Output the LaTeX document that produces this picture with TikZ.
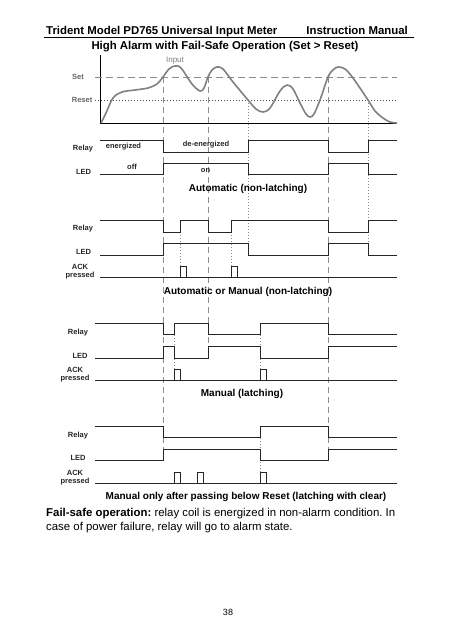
\documentclass[tikz,border=0pt]{standalone}
\usepackage{fontspec}
\setmainfont{Liberation Sans}
\usepackage{tikz}
\usetikzlibrary{positioning}
\frenchspacing

\newcommand{\TraceEnd}{397}
\newcommand{\PulseWidth}{6}

\tikzset{
	trace/.style={line width=0.95pt, black!85},
	inputcurve/.style={line width=1.6pt, black!50, line join=round},
	guide/.style={line width=0.7pt, black!45, dash pattern=on 6pt off 4pt},
	tickline/.style={line width=0.7pt, black!45, dash pattern=on 1pt off 2pt},
	siglabel/.style={inner sep=0pt, font=\fontsize{7.5}{8.5}\selectfont\bfseries, text=black!85},
	levellabel/.style={inner sep=0pt, font=\fontsize{7.5}{8.5}\selectfont\bfseries, text=black!60},
	modetitle/.style={inner sep=0pt, font=\fontsize{10}{12}\selectfont\bfseries},
}

\begin{document}
\begin{tikzpicture}[x=1pt, y=-1pt]
	\useasboundingbox[fill=white] (0,0) rectangle (457,640);
	
	% draw page header
	\node[inner sep=0pt, anchor=base west, font=\fontsize{11.4}{13}\selectfont\bfseries] (header) at (46,34.5) {Trident Model PD765 Universal Input Meter};
	\node[inner sep=0pt, anchor=base east, font=\fontsize{11.4}{13}\selectfont\bfseries] (manual) at (408,34.5) {Instruction Manual};
	\draw[line width=0.8pt] (44,37.5) -- (414,37.5);
	\node[inner sep=0pt, anchor=base, font=\fontsize{11.4}{13}\selectfont\bfseries] (title) at (225,49) {High Alarm with Fail-Safe Operation (Set > Reset)};
	
	% draw vertical guides
	\foreach \x in {163,328}
	\draw[guide] (\x,77) -- (\x,460);
	\draw[guide] (208,77) -- (208,358);
	\foreach \x in {248,368}
	\draw[tickline] (\x,100) -- (\x,255);
	\foreach \x in {180,231}
	\draw[tickline] (\x,220) -- (\x,277);
	\foreach \x in {174,260}
	\draw[tickline] (\x,323) -- (\x,380);
	\draw[tickline] (260,426) -- (260,483);
	
	% draw input chart
	\draw[line width=0.8pt] (100,55) -- (100,123) -- (\TraceEnd,123);
	\draw[guide, line width=0.9pt, dash pattern=on 7pt off 4pt] (95,77) -- (\TraceEnd,77);
	\draw[tickline, black!70] (95,100) -- (\TraceEnd,100);
	\node[levellabel, anchor=west] (setlbl) at (72,77) {Set};
	\node[levellabel, anchor=east] (resetlbl) at (92.5,100) {Reset};
	\node[inner sep=0pt, font=\fontsize{8}{9}\selectfont, text=black!50] (input) at (175,61) {Input};
	\draw[inputcurve] plot[smooth, tension=0.55] coordinates {
		(101,123) (106,113) (113,98) (122,92) (135,90) (148,88) (157,84) (163,77)
		(169,69) (175,66) (181,68) (192,84) (200,91) (204,88) (208,77) (212,70)
		(217,67) (223,69) (233,82) (248,100) (256,109) (263,112) (270,108) (280,91)
		(287,85) (293,89) (300,103) (306,114) (310,117) (314,114) (320,100) (328,77)
		(333,70) (338,67) (345,69) (353,78) (368,100) (375,111) (383,118) (390,122) (\TraceEnd,123)};
	
	% automatic (non-latching)
	\node[siglabel] (relayA) at (83,149) {Relay};
	\node[siglabel] (ledA) at (83.5,172) {LED};
	\draw[trace] (100,140) -| (163,152) -| (248,140) -| (328,152) -| (368,140) -- (\TraceEnd,140);
	\draw[trace] (100,174) -| (163,163) -| (248,174) -| (328,163) -| (368,174) -- (\TraceEnd,174);
	\node[siglabel] (energ) at (123.5,147) {energized};
	\node[siglabel] (deenerg) at (206,145) {de-energized};
	\node[siglabel] (ledoff) at (132,167) {off};
	\node[siglabel] (ledon) at (205.5,171) {on};
	\node[modetitle] (modeA) at (248,189) {Automatic (non-latching)};
	
	% automatic or manual (non-latching)
	\node[siglabel] (relayB) at (83,229) {Relay};
	\node[siglabel] (ledB) at (83.5,252) {LED};
	\node[siglabel, align=center] (ackB) at (80,271.5) {ACK\\pressed};
	\draw[trace] (100,220) -| (163,232) -| (180,220) -| (208,232) -| (231,220) -| (328,232) -| (368,220) -- (\TraceEnd,220);
	\draw[trace] (100,255) -| (163,243) -| (248,255) -| (328,243) -| (368,255) -- (\TraceEnd,255);
	\draw[trace] (100,277) -- (\TraceEnd,277);
	\foreach \p in {180,231}
	\draw[trace] (\p,277) |- (\p+\PulseWidth,266) -- (\p+\PulseWidth,277);
	\node[modetitle] (modeB) at (248,292) {Automatic or Manual (non-latching)};
	
	% manual (latching)
	\node[siglabel] (relayC) at (78,333) {Relay};
	\node[siglabel] (ledC) at (80,356) {LED};
	\node[siglabel, align=center] (ackC) at (75,374.5) {ACK\\pressed};
	\draw[trace] (95,323) -| (163,334) -| (174,323) -| (208,334) -| (260,323) -| (328,334) -- (\TraceEnd,334);
	\draw[trace] (95,358) -| (163,346) -| (174,358) -| (208,346) -| (260,358) -| (328,346) -- (\TraceEnd,346);
	\draw[trace] (95,380) -- (\TraceEnd,380);
	\foreach \p in {174,260}
	\draw[trace] (\p,380) |- (\p+\PulseWidth,369) -- (\p+\PulseWidth,380);
	\node[modetitle] (modeC) at (242,394) {Manual (latching)};
	
	% manual only after passing below reset
	\node[siglabel] (relayD) at (78,436) {Relay};
	\node[siglabel] (ledD) at (78,458) {LED};
	\node[siglabel, align=center] (ackD) at (75,477.5) {ACK\\pressed};
	\draw[trace] (95,426) -| (163,437) -| (260,426) -| (328,437) -- (\TraceEnd,437);
	\draw[trace] (95,460) -| (163,449) -| (260,460) -| (328,449) -- (\TraceEnd,449);
	\draw[trace] (95,483) -- (\TraceEnd,483);
	\foreach \p in {174,197,260}
	\draw[trace] (\p,483) |- (\p+\PulseWidth,472) -- (\p+\PulseWidth,483);
	\node[modetitle] (modeD) at (246,497) {Manual only after passing below Reset (latching with clear)};
	
	% draw note and page number
	\node[inner sep=0pt, anchor=north west, align=left, font=\fontsize{11.4}{14}\selectfont] (note) at (46,508.5)
	{\textbf{Fail-safe operation:} relay coil is energized in non-alarm condition. In\\case of power failure, relay will go to alarm state.};
	\node[inner sep=0pt, font=\fontsize{9}{10}\selectfont] (pagenum) at (228,612) {38};
\end{tikzpicture}
\end{document}
